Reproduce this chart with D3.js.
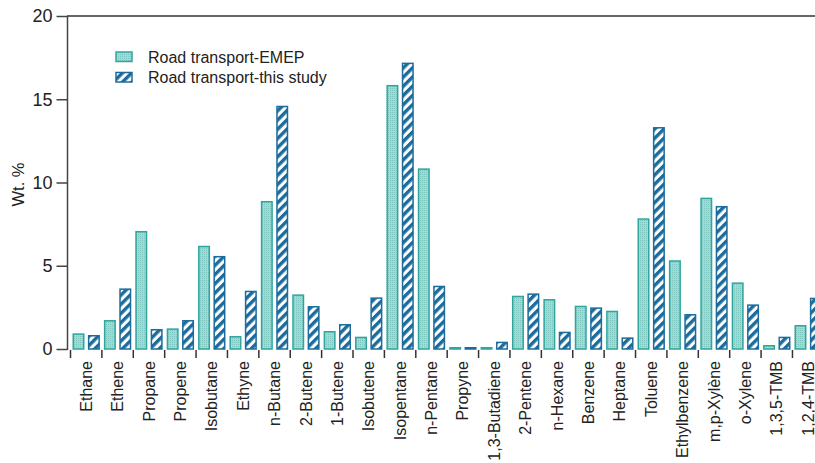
<!DOCTYPE html>
<html>
<head>
<meta charset="utf-8">
<script src="https://cdn.jsdelivr.net/npm/d3@7"></script>
<style>
  html, body { margin: 0; padding: 0; background: #fff; }
  svg { display: block; font-family: "Liberation Sans", Arial, sans-serif; }
</style>
</head>
<body>
<svg id="chart" width="815" height="463"></svg>
<script>
const categories = ["Ethane","Ethene","Propane","Propene","Isobutane","Ethyne","n-Butane","2-Butene","1-Butene","Isobutene","Isopentane","n-Pentane","Propyne","1,3-Butadiene","2-Pentene","n-Hexane","Benzene","Heptane","Toluene","Ethylbenzene","m,p-Xylène","o-Xylene","1,3,5-TMB","1,2,4-TMB"];
const emep  = [0.94, 1.74, 7.09, 1.24, 6.2, 0.78, 8.89, 3.28, 1.08, 0.74, 15.86, 10.85, 0.12, 0.12, 3.2, 3.0, 2.6, 2.3, 7.85, 5.33, 9.09, 4.0, 0.24, 1.44];
const study = [0.84, 3.64, 1.2, 1.74, 5.59, 3.5, 14.61, 2.58, 1.5, 3.1, 17.2, 3.8, 0.12, 0.44, 3.34, 1.04, 2.5, 0.7, 13.33, 2.1, 8.59, 2.68, 0.74, 3.08];
const seriesNames = ["Road transport-EMEP", "Road transport-this study"];
const yTicks = [0, 5, 10, 15, 20];

const svg = d3.select("#chart");
const x0Left = 70.5, step = 31.39;
const y = d3.scaleLinear().domain([0, 20]).range([349, 16]);
const x = d3.scaleBand().domain(categories).range([x0Left, x0Left + step * categories.length]).padding(0);
const x1 = d3.scaleBand().domain(seriesNames).range([2, x.bandwidth() - 2]).paddingInner(0.22);

const defs = svg.append("defs");
const dots = defs.append("pattern").attr("id", "dots").attr("patternUnits", "userSpaceOnUse")
  .attr("width", 2).attr("height", 2);
dots.append("rect").attr("width", 2).attr("height", 2).attr("fill", "#a6d9d4");
dots.append("rect").attr("width", 1).attr("height", 1).attr("fill", "#7cc4bd");
const stripes = defs.append("pattern").attr("id", "stripes").attr("patternUnits", "userSpaceOnUse")
  .attr("width", 6.5).attr("height", 6.5).attr("patternTransform", "rotate(45)");
stripes.append("rect").attr("width", 6.5).attr("height", 6.5).attr("fill", "#fff");
stripes.append("rect").attr("width", 3.4).attr("height", 6.5).attr("fill", "#1b6c9c");

// frame: top line
svg.append("line").attr("x1", 67).attr("x2", 815).attr("y1", y(20)).attr("y2", y(20))
  .attr("stroke", "#666").attr("stroke-width", 2);

// bars
const data = [emep, study];
const fills = ["url(#dots)", "url(#stripes)"];
const strokes = ["#2ea69e", "#1b6c9c"];
seriesNames.forEach((s, si) => {
  svg.append("g").selectAll("rect").data(categories).join("rect")
    .attr("x", d => x(d) + x1(s) + 0.75)
    .attr("width", x1.bandwidth() - 1.5)
    .attr("y", (d, i) => y(data[si][i]) + 0.75)
    .attr("height", (d, i) => Math.max(0, y(0) - y(data[si][i]) - 0.75))
    .attr("fill", fills[si])
    .attr("stroke", strokes[si])
    .attr("stroke-width", 1.5);
});

// y axis
const yAxis = d3.axisLeft(y).tickValues(yTicks).tickSize(11).tickPadding(4);
const gy = svg.append("g").attr("transform", "translate(67.5,0)").call(yAxis);
gy.select(".domain").attr("stroke", "#444").attr("stroke-width", 1.5).attr("d", `M0,${y(20)}V${y(0)+1}`);
gy.selectAll(".tick line").attr("stroke", "#444").attr("stroke-width", 1.5);
gy.selectAll(".tick text").attr("font-size", 18).attr("fill", "#222")
  .attr("font-family", "Liberation Sans, Arial, sans-serif");

// x axis: boundary ticks and rotated labels
const bounds = categories.map(c => x(c)).concat([x(categories[categories.length - 1]) + x.bandwidth()]);
svg.append("g").selectAll("line").data(bounds).join("line")
  .attr("x1", d => d).attr("x2", d => d).attr("y1", 350).attr("y2", 358)
  .attr("stroke", "#333").attr("stroke-width", 1.5);
svg.append("g").selectAll("text").data(categories).join("text")
  .attr("transform", d => `translate(${x(d) + x.bandwidth() / 2},361) rotate(-90)`)
  .attr("text-anchor", "end").attr("dy", "0.35em")
  .attr("font-size", 16).attr("fill", "#222")
  .text(d => d);

// y label
svg.append("text").attr("transform", `translate(18,${(y(0)+y(20))/2 + 2}) rotate(-90)`)
  .attr("text-anchor", "middle").attr("dy", "0.35em").attr("font-size", 16.5).attr("fill", "#222")
  .text("Wt. %");

// legend
const lg = svg.append("g");
seriesNames.forEach((s, i) => {
  const yy = 52 + i * 20.5;
  lg.append("rect").attr("x", 116).attr("y", yy).attr("width", 16).attr("height", 9.5)
    .attr("fill", fills[i]).attr("stroke", strokes[i]).attr("stroke-width", 1.5);
  lg.append("text").attr("x", 148).attr("y", yy + 5).attr("dy", "0.35em")
    .attr("font-size", 16).attr("fill", "#222").text(s);
});
</script>
</body>
</html>
